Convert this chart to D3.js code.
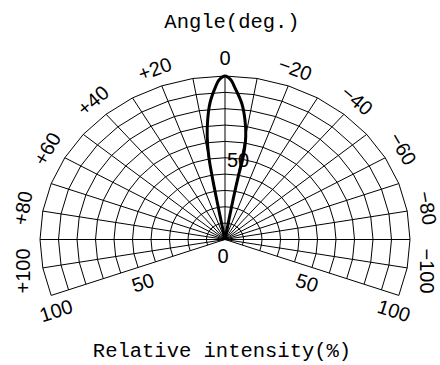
<!DOCTYPE html>
<html lang="en">
<head>
<meta charset="utf-8">
<title>Relative intensity vs angle</title>
<script src="https://cdn.jsdelivr.net/npm/d3@7"></script>
<style>
  body { margin: 0; background: #fff; }
  .tick { font-family: "Liberation Sans", Arial, sans-serif; font-size: 20px; fill: #000; }
  .title { font-family: "Liberation Mono", monospace; font-size: 20.5px; fill: #000; }
</style>
</head>
<body>
<div id="chart"></div>
<script>
  // grid
  var gridAngles = [-110, -100, -90, -80, -70, -60, -50, -40, -30, -20, -10, 0,
                    10, 20, 30, 40, 50, 60, 70, 80, 90, 100, 110];
  var ringLevels = [10, 20, 30, 40, 50, 60, 70, 80, 90, 100];

  // angle tick labels (+ is left of centre)
  var angleTicks = [100, 80, 60, 40, 20, 0, -20, -40, -60, -80, -100];
  var angleTickText = ["+100", "+80", "+60", "+40", "+20", "0", "\u221220", "\u221240", "\u221260", "\u221280", "\u2212100"];

  // intensity tick labels along the +-110 edges
  var intensityTicks = [50, 100];
  var intensityTickText = ["50", "100"];

  // beam pattern (angle in deg., intensity in %)
  var plusAngle = [0, 1.9, 3.1, 5.6, 7.3, 8.7, 9.8, 10.2, 10.4, 10.5];
  var plusIntensity = [100, 97.6, 93.6, 83.7, 73.7, 63.6, 51.5, 40, 27.7, 15];
  var minusAngle = [0, -1.9, -3.1, -6.2, -8.4, -10.1, -11.0, -10.6, -10.2, -10.0];
  var minusIntensity = [100, 97.6, 93.6, 83.8, 73.9, 63.9, 51.7, 40, 27.6, 15.2];

  var W = 440, H = 365;
  var cx = 225, cy = 239.5;

  var svg = d3.select("#chart").append("svg")
      .attr("width", W).attr("height", H);

  // the plot is stretched sideways, so two radius scales
  var rx = d3.scaleLinear().domain([0, 100]).range([0, 185]);
  var ry = d3.scaleLinear().domain([0, 100]).range([0, 163.5]);
  var rad = d3.scaleLinear().domain([-180, 180]).range([-Math.PI, Math.PI]);

  function project(a, v) {
    return [cx - rx(v) * Math.sin(rad(a)), cy - ry(v) * Math.cos(rad(a))];
  }

  var line = d3.line();

  var grid = svg.append("g")
      .attr("fill", "none")
      .attr("stroke", "#000")
      .attr("stroke-width", 1);

  grid.selectAll(".ring")
      .data(ringLevels)
    .enter().append("path")
      .attr("class", "ring")
      .attr("d", function(v) {
        return line(gridAngles.map(function(a) { return project(a, v); }));
      });

  grid.selectAll(".spoke")
      .data(gridAngles)
    .enter().append("path")
      .attr("class", "spoke")
      .attr("d", function(a) { return line([project(a, 0), project(a, 100)]); });

  // beam curve: up the + side, down the - side
  var pts = [project(0, 0)];
  for (var i = plusAngle.length - 1; i >= 0; i--) pts.push(project(plusAngle[i], plusIntensity[i]));
  for (var j = 1; j < minusAngle.length; j++) pts.push(project(minusAngle[j], minusIntensity[j]));
  pts.push(project(0, 0));

  svg.append("path")
      .attr("d", d3.line().curve(d3.curveCatmullRom.alpha(0.5))(pts))
      .attr("fill", "none")
      .attr("stroke", "#000")
      .attr("stroke-width", 3)
      .attr("stroke-linejoin", "round");

  // angle labels round the rim
  svg.selectAll(".angle-label")
      .data(angleTicks)
    .enter().append("text")
      .attr("class", "tick")
      .attr("text-anchor", "middle")
      .attr("dominant-baseline", "central")
      .attr("transform", function(a) {
        var p = project(a, 111);
        var rot = -Math.max(-90, Math.min(90, a));
        return "translate(" + p[0] + "," + p[1] + ") rotate(" + rot + ")";
      })
      .text(function(d, i) { return angleTickText[i]; });

  // intensity labels under the outer edges
  [110, -110].forEach(function(edge) {
    var o = project(edge, 100);
    var dx = cx - o[0], dy = cy - o[1];
    if (edge < 0) { dx = -dx; dy = -dy; }
    var len = Math.sqrt(dx * dx + dy * dy);
    var nx = -dy / len, ny = dx / len;
    var rot = Math.atan2(dy, dx) * 180 / Math.PI;
    svg.selectAll(".edge" + (edge > 0 ? "p" : "m"))
        .data(intensityTicks)
      .enter().append("text")
        .attr("class", "tick")
        .attr("text-anchor", "middle")
        .attr("dominant-baseline", "central")
        .attr("transform", function(v) {
          var p = project(edge, v);
          return "translate(" + (p[0] + nx * 16) + "," + (p[1] + ny * 16) + ") rotate(" + rot + ")";
        })
        .text(function(d, i) { return intensityTickText[i]; });
  });

  svg.append("text")
      .attr("class", "tick")
      .attr("text-anchor", "middle")
      .attr("dominant-baseline", "central")
      .attr("x", cx - 2).attr("y", cy + 16)
      .text("0");

  var p50 = project(0, 50);
  svg.append("text")
      .attr("class", "tick")
      .attr("dominant-baseline", "central")
      .attr("x", p50[0] + 2).attr("y", p50[1] + 2)
      .text("50");

  // titles
  svg.append("text")
      .attr("class", "title")
      .attr("text-anchor", "middle")
      .attr("x", 232).attr("y", 27.5)
      .text("Angle(deg.)");

  svg.append("text")
      .attr("class", "title")
      .attr("text-anchor", "middle")
      .attr("x", 222).attr("y", 356.5)
      .text("Relative intensity(%)");
</script>
</body>
</html>
